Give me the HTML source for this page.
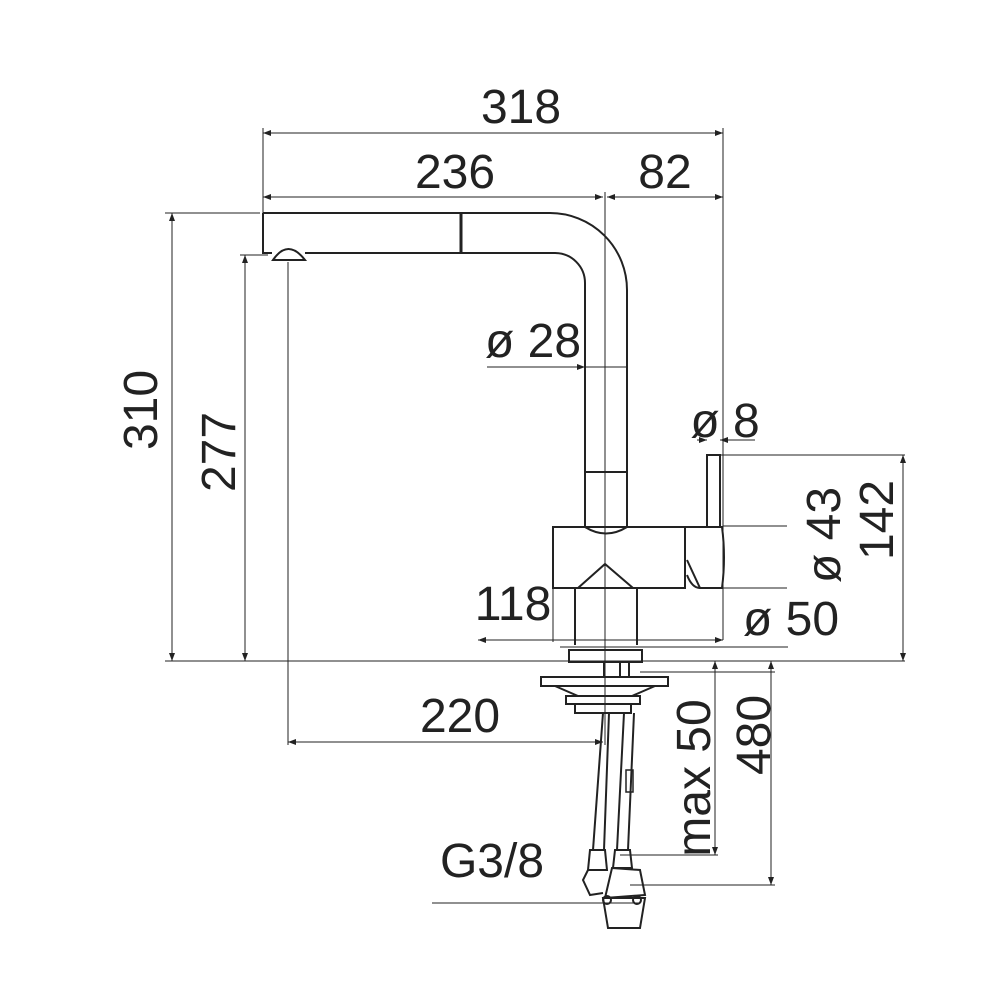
<!DOCTYPE html>
<html><head><meta charset="utf-8"><style>
html,body{margin:0;padding:0;background:#fff}
svg{display:block}
text{font-family:"Liberation Sans",sans-serif;font-size:48px;fill:#222}
</style></head><body>
<svg width="1000" height="1000" viewBox="0 0 1000 1000">
<defs>
<marker id="a" markerWidth="8" markerHeight="6" refX="8" refY="3" orient="auto-start-reverse" markerUnits="userSpaceOnUse"><path d="M0,0 L8,3 L0,6 z" fill="#222"/></marker>
</defs>
<g stroke="#222" fill="none" stroke-width="1">
<line x1="263" y1="128" x2="263" y2="213"/>
<line x1="723" y1="128" x2="723" y2="640"/>
<line x1="605" y1="192" x2="605" y2="745"/>
<line x1="165" y1="213" x2="260" y2="213"/>
<line x1="240" y1="255" x2="268" y2="255"/>
<line x1="165" y1="661" x2="905" y2="661"/>
<line x1="720" y1="455" x2="905" y2="455"/>
<line x1="723" y1="526" x2="787" y2="526"/>
<line x1="723" y1="588" x2="787" y2="588"/>
<line x1="560" y1="647" x2="788" y2="647"/>
<line x1="288" y1="262" x2="288" y2="745"/>
<line x1="553" y1="588" x2="553" y2="642"/>
<line x1="640" y1="672" x2="775" y2="672"/>
<line x1="620" y1="855" x2="718" y2="855"/>
<line x1="630" y1="885" x2="775" y2="885"/>
<line x1="432" y1="903" x2="640" y2="903"/>
<line x1="263" y1="133" x2="723" y2="133" marker-start="url(#a)" marker-end="url(#a)"/>
<line x1="263" y1="197" x2="603" y2="197" marker-start="url(#a)" marker-end="url(#a)"/>
<line x1="607" y1="197" x2="723" y2="197" marker-start="url(#a)" marker-end="url(#a)"/>
<line x1="172" y1="213" x2="172" y2="661" marker-start="url(#a)" marker-end="url(#a)"/>
<line x1="245" y1="255" x2="245" y2="661" marker-start="url(#a)" marker-end="url(#a)"/>
<line x1="288" y1="742" x2="603" y2="742" marker-start="url(#a)" marker-end="url(#a)"/>
<line x1="487" y1="367" x2="585" y2="367" marker-end="url(#a)"/>
<line x1="585" y1="367" x2="627" y2="367"/>
<line x1="697" y1="440" x2="707" y2="440" marker-end="url(#a)"/>
<line x1="720" y1="440" x2="755" y2="440" marker-start="url(#a)"/>
<line x1="903" y1="455" x2="903" y2="661" marker-start="url(#a)" marker-end="url(#a)"/>
<line x1="478" y1="640" x2="723" y2="640" marker-start="url(#a)" marker-end="url(#a)"/>
<line x1="715" y1="661" x2="715" y2="855" marker-start="url(#a)" marker-end="url(#a)"/>
<line x1="771" y1="661" x2="771" y2="885" marker-start="url(#a)" marker-end="url(#a)"/>
</g>
<g stroke="#222" fill="none" stroke-width="2">
<path d="M263,213 L550,213 A77,77 0 0 1 627,290 L627,527"/>
<path d="M263,213 L263,253 L272,253"/>
<path d="M305,253 L555,253 A30,30 0 0 1 585,283 L585,527"/>
<path d="M273,260 Q288,238 305,260 Z" fill="#fff"/>
<line x1="461" y1="213" x2="461" y2="253" stroke-width="3"/>
<line x1="585" y1="472" x2="627" y2="472"/>
<path d="M585,527 Q606,540 627,527"/>
<rect x="553" y="527" width="132" height="61"/>
<path d="M685,527 L722,527 Q726,557 722,588 L700,588 L687,560"/>
<path d="M687,575 Q692,588 700,588"/>
<rect x="707" y="455" width="13" height="72"/>
<path d="M575,588 L575,645 M637,588 L637,645"/>
<path d="M578,588 L605,564 L633,588"/>
<rect x="569" y="650" width="73" height="12"/>
<line x1="604" y1="662" x2="604" y2="677"/><line x1="620" y1="662" x2="620" y2="677"/><line x1="629" y1="662" x2="629" y2="677"/>
<rect x="541" y="677" width="127" height="9"/>
<path d="M555,686 L578,696 L632,696 L655,686"/>
<rect x="566" y="696" width="74" height="8"/>
<rect x="575" y="704" width="56" height="9"/>
<path d="M603,713 L593,850 M609,713 L604,850"/>
<path d="M624,713 L617,850 M634,713 L628,850"/>
<rect x="626" y="770" width="7" height="22" stroke-width="1.5"/>
<path d="M590,850 L605,850 L607,870 L588,870 Z"/>
<path d="M615,850 L630,850 L632,868 L613,868 Z"/>
<path d="M588,870 L583,880 L590,895 L603,893"/>
<path d="M612,868 L640,870 L645,895 L605,898 Z"/>
<path d="M603,898 L645,898 L640,928 L608,928 Z"/>
<circle cx="607" cy="900" r="4"/><circle cx="637" cy="900" r="4"/>
</g>
<text x="521" y="123" text-anchor="middle">318</text>
<text x="455" y="188" text-anchor="middle">236</text>
<text x="665" y="188" text-anchor="middle">82</text>
<text x="533" y="357" text-anchor="middle">ø 28</text>
<text x="725" y="437" text-anchor="middle">ø 8</text>
<text x="513" y="620" text-anchor="middle">118</text>
<text x="791" y="635" text-anchor="middle">ø 50</text>
<text x="460" y="732" text-anchor="middle">220</text>
<text x="492" y="877" text-anchor="middle">G3/8</text>
<text transform="translate(157,410) rotate(-90)" text-anchor="middle">310</text>
<text transform="translate(235,452) rotate(-90)" text-anchor="middle">277</text>
<text transform="translate(840,535) rotate(-90)" text-anchor="middle">ø 43</text>
<text transform="translate(893,520) rotate(-90)" text-anchor="middle">142</text>
<text transform="translate(710,778) rotate(-90)" text-anchor="middle">max 50</text>
<text transform="translate(770,735) rotate(-90)" text-anchor="middle">480</text>
</svg>
</body></html>
